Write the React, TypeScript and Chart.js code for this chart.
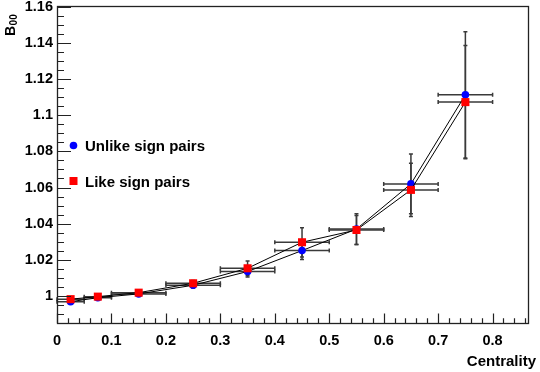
import React, { useEffect, useRef } from "react";
import { Chart, registerables } from "chart.js";

Chart.register(...registerables);

// ---- data ----
const centrality = [0.025, 0.075, 0.15, 0.25, 0.35, 0.45, 0.55, 0.65, 0.75];
const centralityErr = [0.025, 0.025, 0.05, 0.05, 0.05, 0.05, 0.05, 0.05, 0.05];
const unlikeB = [0.9968, 0.999, 1.0011, 1.0059, 1.0135, 1.0251, 1.037, 1.062, 1.1113];
const unlikeErr = [0.001, 0.001, 0.0012, 0.0015, 0.003, 0.005, 0.0085, 0.0165, 0.035];
const likeB = [0.9982, 0.9996, 1.0018, 1.007, 1.0153, 1.0297, 1.0365, 1.0587, 1.1073];
const likeErr = [0.001, 0.001, 0.0012, 0.0015, 0.004, 0.0081, 0.008, 0.0147, 0.0314];
const seriesNames = ["Unlike sign pairs", "Like sign pairs"];
const xTickValues = [0, 0.1, 0.2, 0.3, 0.4, 0.5, 0.6, 0.7, 0.8];
const xTickLabels = ["0", "0.1", "0.2", "0.3", "0.4", "0.5", "0.6", "0.7", "0.8"];
const yTickValues = [1, 1.02, 1.04, 1.06, 1.08, 1.1, 1.12, 1.14, 1.16];
const yTickLabels = ["1", "1.02", "1.04", "1.06", "1.08", "1.1", "1.12", "1.14", "1.16"];
const xTitle = "Centrality";
const yTitle = "B";
const yTitleSub = "00";

const X_MIN = 0;
const X_MAX = 0.865;
const Y_MIN = 0.985;
const Y_MAX = 1.1605;
const X_MINOR = 0.02;
const Y_MINOR = 0.005;

const FONT = '"Liberation Sans", Arial, Helvetica, sans-serif';
const BLUE = "#0000ff";
const RED = "#ff0000";

const errorSets = [
  { y: unlikeB, yErr: unlikeErr },
  { y: likeB, yErr: likeErr },
];

const rootPlugin = {
  id: "rootStyle",
  beforeDatasetsDraw(chart: any) {
    const ctx = chart.ctx;
    const xs = chart.scales.x;
    const ys = chart.scales.y;
    ctx.save();
    ctx.strokeStyle = "#3a3a3a";
    ctx.lineWidth = 1.5;
    errorSets.forEach((set) => {
      centrality.forEach((cx, i) => {
        const px = xs.getPixelForValue(cx);
        const py = ys.getPixelForValue(set.y[i]);
        const xl = xs.getPixelForValue(cx - centralityErr[i]);
        const xr = xs.getPixelForValue(cx + centralityErr[i]);
        const yt = ys.getPixelForValue(set.y[i] + set.yErr[i]);
        const yb = ys.getPixelForValue(set.y[i] - set.yErr[i]);
        ctx.beginPath();
        ctx.moveTo(xl, py);
        ctx.lineTo(xr, py);
        ctx.moveTo(xl, py - 2);
        ctx.lineTo(xl, py + 2);
        ctx.moveTo(xr, py - 2);
        ctx.lineTo(xr, py + 2);
        ctx.moveTo(px, yt);
        ctx.lineTo(px, yb);
        ctx.moveTo(px - 2, yt);
        ctx.lineTo(px + 2, yt);
        ctx.moveTo(px - 2, yb);
        ctx.lineTo(px + 2, yb);
        ctx.stroke();
      });
    });
    ctx.restore();
  },
  afterDraw(chart: any) {
    const ctx = chart.ctx;
    const xs = chart.scales.x;
    const ys = chart.scales.y;
    const a = chart.chartArea;
    ctx.save();
    // frame
    ctx.strokeStyle = "#222";
    ctx.lineWidth = 1.3;
    ctx.strokeRect(Math.round(a.left) + 0.5, Math.round(a.top) + 0.5, Math.round(a.right - a.left), Math.round(a.bottom - a.top));
    // ticks
    const yMajLen = 14;
    const xMajLen = 9.5;
    ctx.lineWidth = 1.2;
    ctx.beginPath();
    for (let k = 0; ; k++) {
      const v = 0.98 + k * Y_MINOR;
      if (v > Y_MAX + 1e-9) break;
      if (v < Y_MIN - 1e-9) continue;
      const major = Math.abs(Math.round(v / 0.02) * 0.02 - v) < 1e-6;
      const py = Math.round(ys.getPixelForValue(v)) + 0.5;
      ctx.moveTo(a.left, py);
      ctx.lineTo(a.left + (major ? yMajLen : yMajLen / 2), py);
    }
    for (let k = 0; ; k++) {
      const v = X_MIN + k * X_MINOR;
      if (v > X_MAX + 1e-9) break;
      const major = Math.abs(Math.round(v / 0.1) * 0.1 - v) < 1e-6;
      const px = Math.round(xs.getPixelForValue(v)) + 0.5;
      ctx.moveTo(px, a.bottom);
      ctx.lineTo(px, a.bottom - (major ? xMajLen : xMajLen / 2));
    }
    ctx.stroke();

    // axis titles
    ctx.fillStyle = "#000";
    ctx.font = `bold 15px ${FONT}`;
    ctx.textAlign = "right";
    ctx.textBaseline = "alphabetic";
    ctx.fillText(xTitle, 536, 366);

    ctx.save();
    ctx.translate(15, 36);
    ctx.rotate(-Math.PI / 2);
    ctx.textAlign = "left";
    ctx.font = `bold 14px ${FONT}`;
    ctx.fillText(yTitle, 0, 0);
    const bw = ctx.measureText(yTitle).width;
    ctx.font = `bold 10px ${FONT}`;
    ctx.fillText(yTitleSub, bw + 0.5, 2);
    ctx.restore();

    // legend
    ctx.font = `bold 15px ${FONT}`;
    ctx.textAlign = "left";
    ctx.fillStyle = BLUE;
    ctx.beginPath();
    ctx.arc(73.5, 145.5, 3.8, 0, Math.PI * 2);
    ctx.fill();
    ctx.fillStyle = RED;
    ctx.fillRect(69.5, 177, 8, 8);
    ctx.fillStyle = "#000";
    ctx.fillText(seriesNames[0], 85, 151);
    ctx.fillText(seriesNames[1], 85, 187);
    ctx.restore();
  },
};

export default function App() {
  const ref = useRef<HTMLCanvasElement | null>(null);
  useEffect(() => {
    if (!ref.current) return;
    const chart = new Chart(ref.current, {
      type: "line",
      data: {
        datasets: [
          {
            label: seriesNames[0],
            data: centrality.map((x, i) => ({ x, y: unlikeB[i] })),
            borderColor: "#000",
            borderWidth: 1,
            pointStyle: "circle",
            pointRadius: 3.8,
            pointBackgroundColor: BLUE,
            pointBorderWidth: 0,
            tension: 0,
            order: 1,
          },
          {
            label: seriesNames[1],
            data: centrality.map((x, i) => ({ x, y: likeB[i] })),
            borderColor: "#000",
            borderWidth: 1,
            pointStyle: "rect",
            pointRadius: 5.7,
            pointBackgroundColor: RED,
            pointBorderWidth: 0,
            tension: 0,
            order: 0,
          },
        ],
      },
      options: {
        animation: false,
        responsive: false,
        devicePixelRatio: 1,
        layout: { padding: { top: 6, right: 12, left: 0, bottom: 0 } },
        plugins: { legend: { display: false }, tooltip: { enabled: false } },
        events: [],
        scales: {
          x: {
            type: "linear",
            min: X_MIN,
            max: X_MAX,
            border: { display: false },
            grid: { display: false },
            afterBuildTicks: (s: any) => {
              s.ticks = xTickValues.map((v) => ({ value: v }));
            },
            afterFit: (s: any) => {
              s.height = 49;
              s.paddingLeft = 0;
              s.paddingRight = 0;
            },
            ticks: {
              autoSkip: false,
              maxRotation: 0,
              padding: 1,
              color: "#000",
              font: { family: FONT, size: 14.5, weight: "bold" },
              callback: (_v: any, i: number) => xTickLabels[i],
            },
          },
          y: {
            type: "linear",
            min: Y_MIN,
            max: Y_MAX,
            border: { display: false },
            grid: { display: false, tickLength: 0 },
            afterBuildTicks: (s: any) => {
              s.ticks = yTickValues.map((v) => ({ value: v }));
            },
            afterFit: (s: any) => {
              s.width = 57;
              s.paddingTop = 0;
              s.paddingBottom = 0;
            },
            ticks: {
              autoSkip: false,
              padding: 4,
              color: "#000",
              font: { family: FONT, size: 14.5, weight: "bold" },
              callback: (_v: any, i: number) => yTickLabels[i],
            },
          },
        },
      },
      plugins: [rootPlugin],
    });
    return () => chart.destroy();
  }, []);
  return (
    <div style={{ position: "absolute", left: 0, top: 0, width: 540, height: 372, background: "#fff" }}>
      <canvas ref={ref} width={540} height={372} style={{ display: "block" }} />
    </div>
  );
}
